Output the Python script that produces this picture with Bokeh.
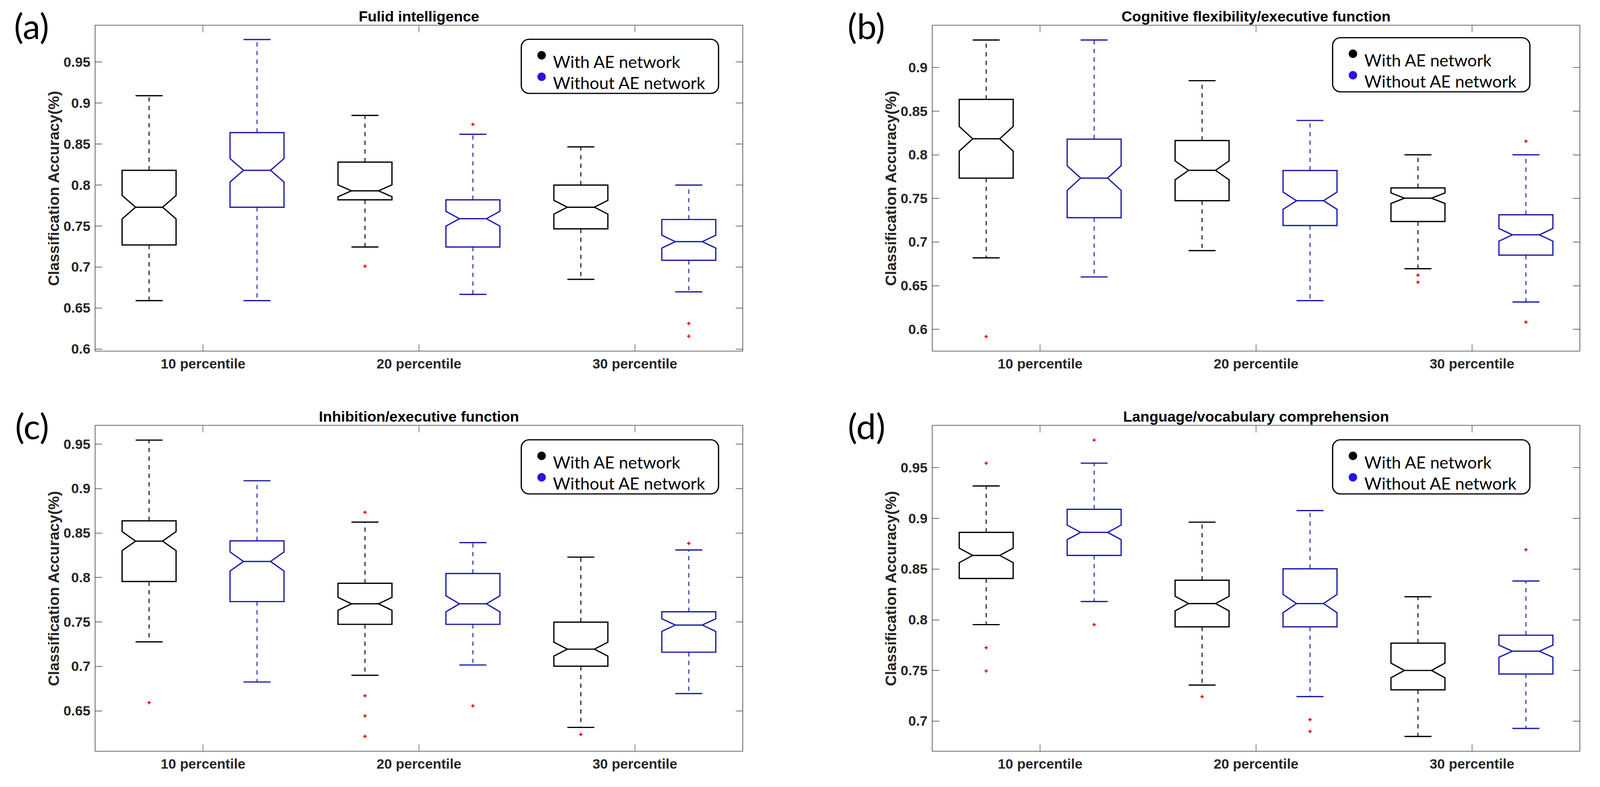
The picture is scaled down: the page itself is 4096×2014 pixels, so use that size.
import numpy as np
from bokeh.plotting import figure
from bokeh.models import (FixedTicker, CustomJSTickFormatter, LinearAxis,
                          BoxAnnotation, Range1d, Label)
from bokeh.layouts import row, column
from bokeh.embed import file_html
from bokeh.resources import INLINE

# ---------------- data ----------------
categories = ["10 percentile", "20 percentile", "30 percentile"]
series_names = ["With AE network", "Without AE network"]
panel_titles = ["Fulid intelligence", "Cognitive flexibility/executive function",
                "Inhibition/executive function", "Language/vocabulary comprehension"]
panel_tags = ["(a)", "(b)", "(c)", "(d)"]
y_label = "Classification Accuracy(%)"
n_runs = 100  # used for notch width (1.57*IQR/sqrt(n))

# each row: [lower whisker, Q1, median, Q3, upper whisker] for 10/20/30 percentile
fluid_with = [[0.659, 0.727, 0.773, 0.818, 0.909],
              [0.7245, 0.782, 0.793, 0.828, 0.885],
              [0.685, 0.7466, 0.773, 0.800, 0.8466]]
fluid_without = [[0.659, 0.773, 0.818, 0.864, 0.9775],
                 [0.6667, 0.7245, 0.759, 0.782, 0.862],
                 [0.6698, 0.7083, 0.731, 0.758, 0.800]]
fluid_with_out = [[], [0.701], []]
fluid_without_out = [[], [0.874], [0.6312, 0.6156]]

cogflex_with = [[0.6819, 0.7733, 0.8184, 0.8635, 0.9316],
                [0.6902, 0.7474, 0.7822, 0.8164, 0.885],
                [0.6695, 0.7236, 0.7503, 0.7621, 0.800]]
cogflex_without = [[0.660, 0.7279, 0.7733, 0.818, 0.9316],
                   [0.6328, 0.719, 0.7474, 0.782, 0.8394],
                   [0.6313, 0.685, 0.7083, 0.7313, 0.800]]
cogflex_with_out = [[0.5917], [], [0.662, 0.654]]
cogflex_without_out = [[], [], [0.8155, 0.6083]]

inhib_with = [[0.7276, 0.7955, 0.8409, 0.8637, 0.9545],
              [0.690, 0.7473, 0.7704, 0.7935, 0.8623],
              [0.6314, 0.7002, 0.7194, 0.7498, 0.8229]]
inhib_without = [[0.6825, 0.7729, 0.818, 0.8412, 0.9088],
                 [0.7016, 0.7473, 0.7704, 0.8045, 0.8392],
                 [0.6695, 0.716, 0.7465, 0.7614, 0.831]]
inhib_with_out = [[0.6593], [0.8733, 0.667, 0.6444, 0.6213], [0.6235]]
inhib_without_out = [[], [0.6557], [0.8384]]

lang_with = [[0.7952, 0.8407, 0.8635, 0.8862, 0.932],
             [0.7356, 0.793, 0.816, 0.839, 0.8963],
             [0.6849, 0.7309, 0.750, 0.7769, 0.8227]]
lang_without = [[0.818, 0.8635, 0.8862, 0.909, 0.9545],
                [0.7242, 0.793, 0.816, 0.8503, 0.9077],
                [0.6928, 0.7465, 0.769, 0.7848, 0.8382]]
lang_with_out = [[0.9545, 0.7725, 0.7495], [0.7242], []]
lang_without_out = [[0.9772, 0.7952], [0.7015, 0.6899], [0.8691]]

y_limits = [(0.5975, 0.9950), (0.5750, 0.9486), (0.6046, 0.9711), (0.6703, 0.9918)]
y_ticks = [[0.6, 0.65, 0.7, 0.75, 0.8, 0.85, 0.9, 0.95],
           [0.6, 0.65, 0.7, 0.75, 0.8, 0.85, 0.9],
           [0.65, 0.7, 0.75, 0.8, 0.85, 0.9, 0.95],
           [0.7, 0.75, 0.8, 0.85, 0.9, 0.95]]

# ---------------- styling / layout ----------------
FW, FH = 1658, 834
COL_BORDERS = [(243, 239), (246, 36)]
ROW_BORDERS = [(64, 126), (64, 78)]
LEG_POS = [(1091, 36), (1025, 32), (1091, 37), (1025, 37)]
TAG_STANDOFF = [-12, -9, -12, -10]
BLACK = "#000000"
BLUE = "#1a1aa8"
LEG_BLUE = "#2a14e0"
RED = "#e00000"
AXC = "#3c3c3c"
TICKC = "#262626"
FONT = "Liberation Sans"


def make_panel(k, with_stats, without_stats, with_out, without_out):
    col, rw = k % 2, k // 2
    y0, y1 = y_limits[k]
    p = figure(frame_width=FW, frame_height=FH,
               x_range=Range1d(0.5, 3.5), y_range=Range1d(y0, y1),
               output_backend="svg", toolbar_location=None,
               min_border_left=COL_BORDERS[col][0], min_border_right=COL_BORDERS[col][1],
               min_border_top=ROW_BORDERS[rw][0], min_border_bottom=ROW_BORDERS[rw][1])
    p.xgrid.visible = False
    p.ygrid.visible = False
    p.outline_line_color = AXC
    p.outline_line_width = 1.6
    p.background_fill_color = "white"
    p.border_fill_color = "white"

    def style_axis(ax):
        ax.axis_line_color = None
        ax.major_tick_in = 18
        ax.major_tick_out = 0
        ax.major_tick_line_color = AXC
        ax.major_tick_line_width = 1.3
        ax.minor_tick_line_color = None
        ax.major_label_text_font = FONT
        ax.major_label_text_font_style = "bold"
        ax.major_label_text_font_size = "35.5px"
        ax.major_label_text_color = TICKC
        ax.major_label_standoff = 12

    xax = p.xaxis[0]
    xax.ticker = FixedTicker(ticks=[1, 2, 3])
    xax.major_label_overrides = {i + 1: c for i, c in enumerate(categories)}
    style_axis(xax)

    yax = p.yaxis[0]
    yax.ticker = FixedTicker(ticks=y_ticks[k])
    yax.formatter = CustomJSTickFormatter(code="return String(Math.round(tick*100)/100)")
    style_axis(yax)
    yax.axis_label = y_label
    yax.axis_label_text_font = FONT
    yax.axis_label_text_font_style = "bold"
    yax.axis_label_text_font_size = "39px"
    yax.axis_label_text_color = TICKC
    yax.axis_label_standoff = 0

    # panel tag "(a)".. drawn as the single label of an extra left axis,
    # whose only tick sits just under the top edge of the frame
    tag_tick = y1 - 0.6 * (y1 - y0) / FH
    tag_code = "return '%s'" % panel_tags[k]
    gax = LinearAxis(ticker=FixedTicker(ticks=[tag_tick]),
                     formatter=CustomJSTickFormatter(code=tag_code))
    gax.axis_line_color = None
    gax.major_tick_line_color = None
    gax.minor_tick_line_color = None
    gax.major_tick_in = 0
    gax.major_tick_out = 0
    gax.major_label_standoff = TAG_STANDOFF[k]
    gax.major_label_text_font = "Lato"
    gax.major_label_text_font_size = "90px"
    gax.major_label_text_color = "black"
    p.add_layout(gax, "left")

    blank = CustomJSTickFormatter(code="return ''")
    rax = LinearAxis(ticker=FixedTicker(ticks=y_ticks[k]), formatter=blank)
    style_axis(rax)
    rax.major_label_standoff = 0
    rax.major_label_text_font_size = "1px"
    p.add_layout(rax, "right")

    tax = LinearAxis(ticker=FixedTicker(ticks=[1, 2, 3]), formatter=blank)
    style_axis(tax)
    tax.major_label_standoff = 0
    tax.major_label_text_font_size = "1px"
    tax.axis_label = panel_titles[k]
    tax.axis_label_text_font = FONT
    tax.axis_label_text_font_style = "bold"
    tax.axis_label_text_font_size = "37.8px"
    tax.axis_label_text_color = "black"
    tax.axis_label_standoff = 2
    p.add_layout(tax, "above")

    # pixel offsets (relative to the frame) -> data coordinates, for the legend
    def xd(px):
        return 0.5 + px * 3.0 / FW

    def yd_top(px):
        return y1 - px * (y1 - y0) / FH

    # boxes
    hw, nw, cw = 0.125, 0.0625, 0.0625
    for s, (stats, outs, color) in enumerate([(with_stats, with_out, BLACK),
                                               (without_stats, without_out, BLUE)]):
        off = -0.25 + 0.5 * s
        xs_list, ys_list = [], []
        wx0, wy0, wx1, wy1 = [], [], [], []
        cx0, cy, cx1 = [], [], []
        mx0, my, mx1 = [], [], []
        ox, oy = [], []
        for i, (lw, q1, med, q3, uw) in enumerate(stats):
            x = i + 1 + off
            notch = 1.57 * (q3 - q1) / np.sqrt(n_runs)
            xs_list.append([x - hw, x - hw, x - nw, x - hw, x - hw,
                            x + hw, x + hw, x + nw, x + hw, x + hw])
            ys_list.append([q1, med - notch, med, med + notch, q3,
                            q3, med + notch, med, med - notch, q1])
            wx0 += [x, x]; wy0 += [q3, q1]; wx1 += [x, x]; wy1 += [uw, lw]
            cx0 += [x - cw, x - cw]; cy += [uw, lw]; cx1 += [x + cw, x + cw]
            mx0.append(x - nw); my.append(med); mx1.append(x + nw)
            for o in outs[i]:
                ox.append(x); oy.append(o)
        p.segment(x0=wx0, y0=wy0, x1=wx1, y1=wy1, line_color=color,
                  line_width=2.4, line_dash="11 11")
        p.patches(xs=xs_list, ys=ys_list, fill_color=None, line_color=color,
                  line_width=3.2, line_join="miter")
        p.segment(x0=mx0, y0=my, x1=mx1, y1=my, line_color=color, line_width=3.2)
        p.segment(x0=cx0, y0=cy, x1=cx1, y1=cy, line_color=color, line_width=3.2)
        if ox:
            p.scatter(x=ox, y=oy, marker="cross", size=9, line_width=2.5,
                      line_color=RED)

    # legend
    lx, ly = LEG_POS[k]
    box = BoxAnnotation(left=xd(lx), right=xd(lx + 505), top=yd_top(ly),
                        bottom=yd_top(ly + 138.5),
                        fill_color="white", fill_alpha=1.0, line_color="black",
                        line_alpha=1.0, line_dash="solid",
                        line_width=3.2, border_radius=20, level="underlay")
    p.add_layout(box)
    p.scatter(x=[xd(lx + 52)] * 2, y=[yd_top(ly + 41), yd_top(ly + 96)], marker="circle",
              size=21, fill_color=[BLACK, LEG_BLUE], line_color=[BLACK, LEG_BLUE])
    for j, name in enumerate(series_names):
        p.add_layout(Label(x=xd(lx + 81), y=yd_top(ly + 57 + 54 * j), text=name,
                           text_font="Lato", text_font_size="43px",
                           text_baseline="alphabetic", text_align="left",
                           text_color="black"))
    return p


pA = make_panel(0, fluid_with, fluid_without, fluid_with_out, fluid_without_out)
pB = make_panel(1, cogflex_with, cogflex_without, cogflex_with_out, cogflex_without_out)
pC = make_panel(2, inhib_with, inhib_without, inhib_with_out, inhib_without_out)
pD = make_panel(3, lang_with, lang_without, lang_with_out, lang_without_out)

layout = column(row(pA, pB), row(pC, pD))
open("out.html", "w").write(file_html(layout, INLINE))
